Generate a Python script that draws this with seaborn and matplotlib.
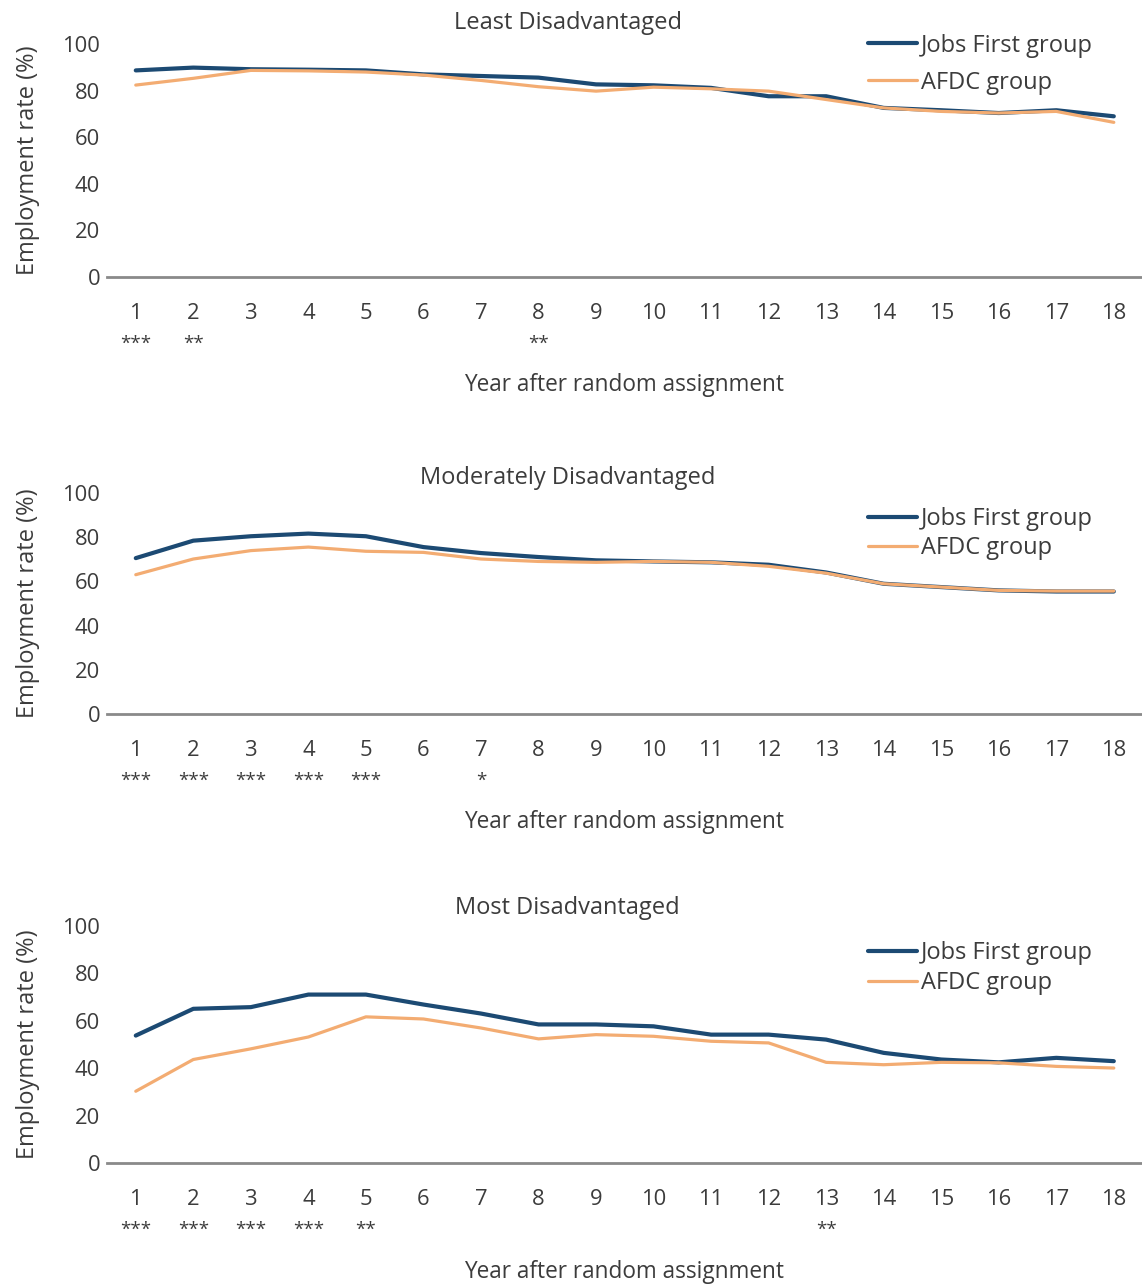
import matplotlib
matplotlib.use('Agg')
import matplotlib.pyplot as plt
import pandas as pd
import seaborn as sns

# employment rate (%) by year after random assignment
years = list(range(1, 19))

least_jobs = [88.7, 89.9, 89.2, 89.0, 88.7, 87.0, 86.3, 85.6, 82.7, 82.3, 81.2, 77.6, 77.6, 72.6, 71.6, 70.4, 71.6, 69.0]
least_afdc = [82.4, 85.3, 88.7, 88.5, 88.0, 86.7, 84.4, 81.7, 79.8, 81.5, 80.8, 79.8, 76.2, 72.6, 71.1, 70.4, 71.1, 66.4]
least_stars = ["***", "**", "", "", "", "", "", "**", "", "", "", "", "", "", "", "", "", ""]

moderate_jobs = [70.5, 78.4, 80.4, 81.6, 80.4, 75.5, 72.8, 71.0, 69.5, 69.0, 68.6, 67.5, 64.0, 58.9, 57.4, 55.9, 55.4, 55.4]
moderate_afdc = [63.0, 70.1, 73.9, 75.5, 73.6, 73.1, 70.1, 69.0, 68.6, 69.0, 68.6, 66.8, 63.7, 58.9, 57.4, 55.9, 55.6, 55.6]
moderate_stars = ["***", "***", "***", "***", "***", "", "*", "", "", "", "", "", "", "", "", "", "", ""]

most_jobs = [53.8, 65.1, 65.8, 71.1, 71.1, 66.9, 63.1, 58.5, 58.5, 57.7, 54.2, 54.2, 52.1, 46.5, 43.7, 42.5, 44.4, 43.0]
most_afdc = [30.3, 43.7, 48.2, 53.2, 61.7, 60.8, 57.0, 52.4, 54.2, 53.5, 51.4, 50.7, 42.5, 41.5, 42.5, 42.3, 40.8, 40.1]
most_stars = ["***", "***", "***", "***", "**", "", "", "", "", "", "", "", "**", "", "", "", "", ""]

titles = ["Least Disadvantaged", "Moderately Disadvantaged", "Most Disadvantaged"]

BLUE = "#1c4a73"
ORANGE = "#f3ac72"
TEXT = "#3c3c3c"

sns.set_style("white")
plt.rcParams['font.family'] = ['Open Sans', 'DejaVu Sans']
plt.rcParams['text.color'] = TEXT
plt.rcParams['axes.labelcolor'] = TEXT
plt.rcParams['xtick.color'] = TEXT
plt.rcParams['ytick.color'] = TEXT

fig = plt.figure(figsize=(11.42, 12.85), dpi=100)

# axes boxes in figure fraction: left, bottom, width, height
boxes = [
    [0.0937, 0.7844, 0.9063, 0.1813],
    [0.0937, 0.4444, 0.9063, 0.1720],
    [0.0937, 0.0949, 0.9063, 0.1844],
]
title_pads = [11.2, 6.2, 8.4]
legend_y = [1.045, 0.935, 0.936]
legend_spacing = [0.55, 0.22, 0.26]
xlabel_y = [-0.41, -0.436, -0.41]

panels = [
    (least_jobs, least_afdc, least_stars),
    (moderate_jobs, moderate_afdc, moderate_stars),
    (most_jobs, most_afdc, most_stars),
]

for i, (jobs, afdc, stars) in enumerate(panels):
    ax = fig.add_axes(boxes[i])
    df = pd.DataFrame({"year": years, "jobs": jobs, "afdc": afdc})
    sns.lineplot(data=df, x="year", y="jobs", color=BLUE, linewidth=3.0,
                 label="Jobs First group", ax=ax)
    sns.lineplot(data=df, x="year", y="afdc", color=ORANGE, linewidth=2.3,
                 label="AFDC group", ax=ax)

    ax.set_ylim(0, 100)
    ax.set_xlim(0.5, 18.49)
    ax.set_yticks([0, 20, 40, 60, 80, 100])
    ax.set_xticks(years)
    ax.set_xticklabels([str(y) for y in years])
    ax.tick_params(axis='x', length=0, pad=19, labelsize=15.8)
    ax.tick_params(axis='y', length=0, pad=5, labelsize=15.8)

    # significance stars under the year labels
    for y, s in zip(years, stars):
        if s:
            ax.annotate(s, xy=(y, 0), xytext=(0, -41.5), textcoords="offset points",
                        ha="center", va="top", fontsize=13.5, color=TEXT,
                        annotation_clip=False)

    for side in ["left", "right", "top"]:
        ax.spines[side].set_visible(False)
    ax.spines["bottom"].set_color("#8a8a8a")
    ax.spines["bottom"].set_linewidth(2)

    ax.set_ylabel("Employment rate (%)", fontsize=17, labelpad=16)
    ax.set_xlabel("Year after random assignment", fontsize=16.3)
    ax.xaxis.set_label_coords(0.5, xlabel_y[i])
    ax.xaxis.label.set_va("top")
    ax.set_title(titles[i], fontsize=17, x=0.445, pad=title_pads[i], color=TEXT)

    ax.legend(loc="upper left", bbox_to_anchor=(0.735, legend_y[i]), frameon=False,
              fontsize=17, handlelength=2.1, handletextpad=0.15, borderpad=0,
              borderaxespad=0, labelspacing=legend_spacing[i])

fig.savefig("out.png", dpi=100)
